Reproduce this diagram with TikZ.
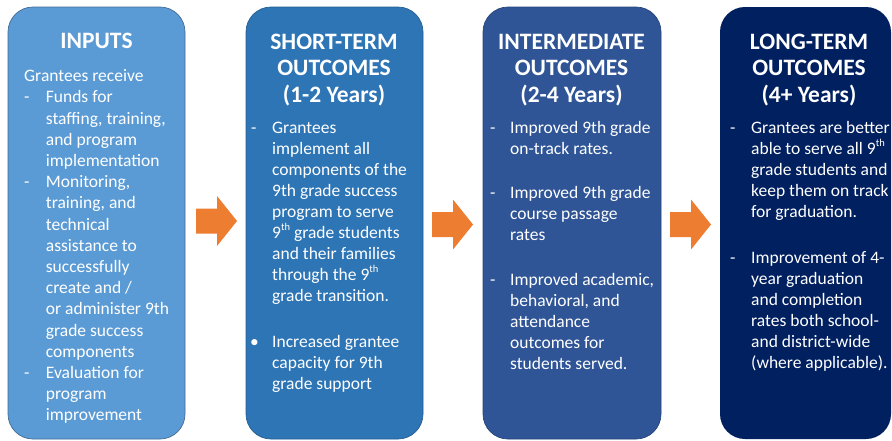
\documentclass[tikz,border=0pt]{standalone}
\usepackage{fontspec}
\setmainfont{Carlito}
\definecolor{bxa}{HTML}{5B9BD5}
\definecolor{bxb}{HTML}{2E75B6}
\definecolor{bxc}{HTML}{2F5597}
\definecolor{bxd}{HTML}{002060}
\definecolor{arrowcol}{HTML}{ED7D31}
\newcommand{\bline}[4]{\node[bt] (#1) at (#2,#3) {#4};}
\newcommand{\tline}[4]{\node[ttl] (#1) at (#2,#3) {#4};}
\newcommand{\sups}[1]{\raisebox{0.45em}{\fontsize{10.5}{12}\selectfont #1}}
\newcommand{\blockarrow}[3]{%
  \fill[arrowcol] (#2,#3-12.5) -- (#2+21,#3-12.5) -- (#2+21,#3-25) -- (#2+41,#3)
   -- (#2+21,#3+25) -- (#2+21,#3+12.5) -- (#2,#3+12.5) -- cycle;
  \coordinate (#1) at (#2+20,#3);}
\begin{document}
\begin{tikzpicture}[x=1pt,y=-1pt,
  box/.style={rounded corners=25pt, inner sep=0pt, line width=0.7pt},
  ttl/.style={text=white, font=\fontsize{23.5}{27}\selectfont\bfseries, anchor=base, inner sep=0pt},
  bt/.style={text=white, font=\fontsize{17.5}{21}\selectfont, anchor=base west, inner sep=0pt}]
\useasboundingbox (0,0) rectangle (892,440);
\fill[white] (0,0) rectangle (892,440);

% boxes
\node[box, fill=bxa, draw=bxa!70!black, minimum width=177pt, minimum height=432pt] (b1) at (96.5,223) {};
\node[box, fill=bxb, draw=bxb!80!black, minimum width=177pt, minimum height=432pt] (b2) at (334.5,223) {};
\node[box, fill=bxc, draw=bxc!80!black, minimum width=178pt, minimum height=432pt] (b3) at (572,223) {};
\node[box, fill=bxd, minimum width=171pt, minimum height=432pt] (b4) at (805.5,223) {};

% arrows
\blockarrow{a1}{196}{221}
\blockarrow{a2}{432}{224.5}
\blockarrow{a3}{670}{224.5}

% titles
\tline{t1a}{96.5}{48}{INPUTS}
\tline{t2a}{334}{49}{SHORT-TERM}
\tline{t2b}{334}{75.5}{OUTCOMES}
\tline{t2c}{334}{102}{(1-2 Years)}
\tline{t3a}{571.5}{49}{INTERMEDIATE}
\tline{t3b}{571.5}{75.5}{OUTCOMES}
\tline{t3c}{571.5}{102}{(2-4 Years)}
\tline{t4a}{809}{49}{LONG-TERM}
\tline{t4b}{809}{75.5}{OUTCOMES}
\tline{t4c}{809}{102}{(4+ Years)}

% box 1 body
\bline{p1a}{24}{81.7}{Grantees receive}
\bline{d1a}{24}{102.9}{-}
\bline{p1b}{45.7}{102.9}{Funds for}
\bline{p1c}{45.7}{124.1}{staffing, training,}
\bline{p1d}{45.7}{145.3}{and program}
\bline{p1e}{45.7}{166.5}{implementation}
\bline{d1b}{24}{187.7}{-}
\bline{p1f}{45.7}{187.7}{Monitoring,}
\bline{p1g}{45.7}{208.9}{training, and}
\bline{p1h}{45.7}{230.1}{technical}
\bline{p1i}{45.7}{251.3}{assistance to}
\bline{p1j}{45.7}{272.5}{successfully}
\bline{p1k}{45.7}{293.7}{create and /}
\bline{p1l}{45.7}{314.9}{or administer 9th}
\bline{p1m}{45.7}{336.1}{grade success}
\bline{p1n}{45.7}{357.3}{components}
\bline{d1c}{24}{378.5}{-}
\bline{p1o}{45.7}{378.5}{Evaluation for}
\bline{p1p}{45.7}{399.7}{program}
\bline{p1q}{45.7}{420.9}{improvement}

% box 2 body
\bline{d2a}{251}{133}{-}
\bline{p2a}{272}{133}{Grantees}
\bline{p2b}{272}{154.1}{implement all}
\bline{p2c}{272}{175.2}{components of the}
\bline{p2d}{272}{196.3}{9th grade success}
\bline{p2e}{272}{217.4}{program to serve}
\bline{p2f}{272}{238.5}{9\sups{th} grade students}
\bline{p2g}{272}{259.6}{and their families}
\bline{p2h}{272}{280.7}{through the 9\sups{th}}
\bline{p2i}{272}{301.8}{grade transition.}
\bline{d2b}{250}{347}{•}
\bline{p2j}{272}{347}{Increased grantee}
\bline{p2k}{272}{368.1}{capacity for 9th}
\bline{p2l}{272}{389.2}{grade support}

% box 3 body
\bline{d3a}{490}{133}{-}
\bline{p3a}{510}{133}{Improved 9th grade}
\bline{p3b}{510}{154.1}{on-track rates.}
\bline{d3b}{490}{198}{-}
\bline{p3c}{510}{198}{Improved 9th grade}
\bline{p3d}{510}{219.1}{course passage}
\bline{p3e}{510}{240.2}{rates}
\bline{d3c}{490}{285}{-}
\bline{p3f}{510}{285}{Improved academic,}
\bline{p3g}{510}{306.1}{behavioral, and}
\bline{p3h}{510}{327.2}{attendance}
\bline{p3i}{510}{348.3}{outcomes for}
\bline{p3j}{510}{369.4}{students served.}

% box 4 body
\bline{d4a}{730}{133}{-}
\bline{p4a}{751}{133}{Grantees are better}
\bline{p4b}{751}{154.1}{able to serve all 9\sups{th}}
\bline{p4c}{751}{175.2}{grade students and}
\bline{p4d}{751}{196.3}{keep them on track}
\bline{p4e}{751}{217.4}{for graduation.}
\bline{d4b}{730}{263}{-}
\bline{p4f}{751}{263}{Improvement of 4-}
\bline{p4g}{751}{284.1}{year graduation}
\bline{p4h}{751}{305.2}{and completion}
\bline{p4i}{751}{326.3}{rates both school-}
\bline{p4j}{751}{347.4}{and district-wide}
\bline{p4k}{751}{368.5}{(where applicable).}
\end{tikzpicture}
\end{document}
